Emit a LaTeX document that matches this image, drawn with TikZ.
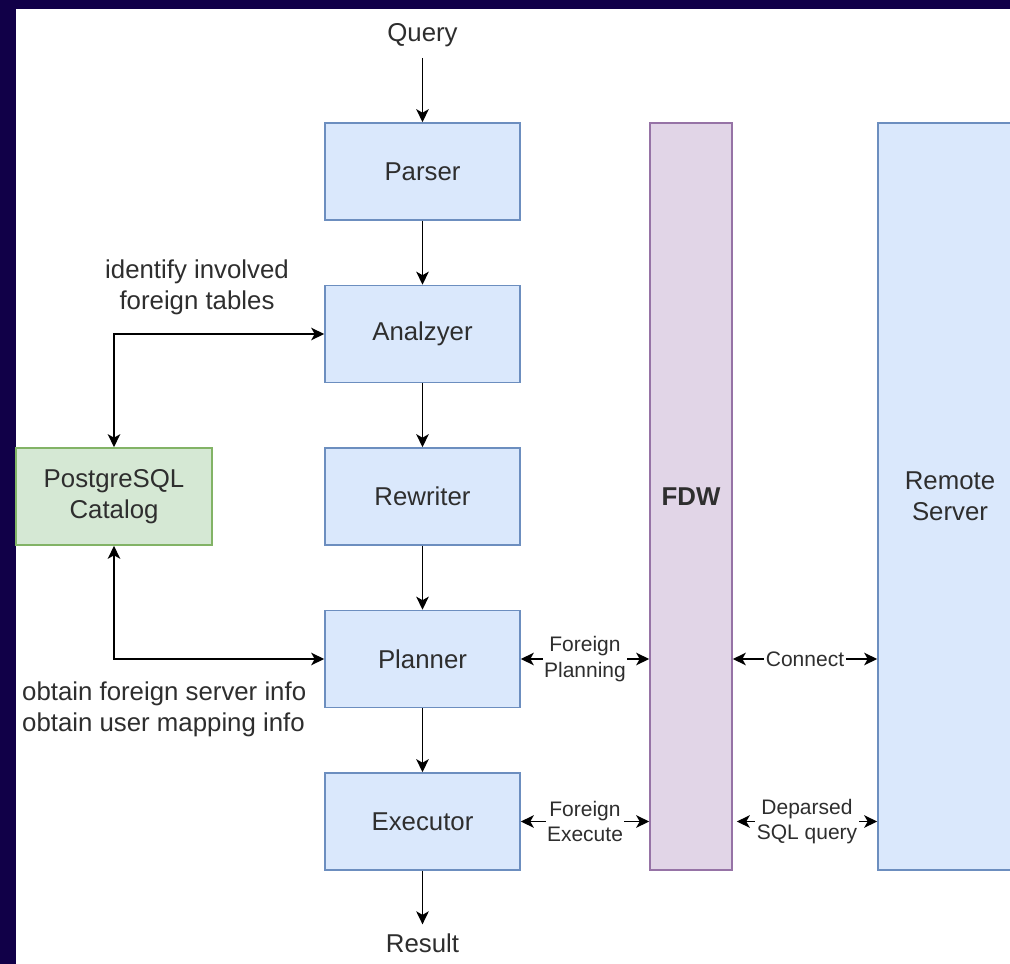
\documentclass[tikz,border=0pt]{standalone}
\usepackage{fontspec}
\setmainfont{Liberation Sans}
\usetikzlibrary{arrows.meta,calc}
\definecolor{frame}{RGB}{17,0,72}
\definecolor{bfill}{HTML}{DAE8FC}
\definecolor{bdraw}{HTML}{6C8EBF}
\definecolor{gfill}{HTML}{D5E8D4}
\definecolor{gdraw}{HTML}{82B366}
\definecolor{pfill}{HTML}{E1D5E7}
\definecolor{pdraw}{HTML}{9673A6}
\definecolor{txt}{HTML}{2E2E2E}
\tikzset{
  stage/.style={draw=bdraw, fill=bfill, line width=1.6pt, minimum width=195pt, minimum height=97pt, inner sep=0pt, align=center, text=txt, font=\fontsize{25.8}{31}\selectfont},
  catbox/.style={stage, draw=gdraw, fill=gfill, minimum width=196pt},
  tall/.style={line width=1.6pt, minimum height=747pt, inner sep=0pt, align=center, text=txt, font=\fontsize{25.8}{31}\selectfont},
  plain/.style={inner sep=2pt, align=center, text=txt, font=\fontsize{25.8}{31}\selectfont},
  small/.style={fill=white, inner sep=1.5pt, align=center, text=txt, font=\fontsize{21}{25.5}\selectfont},
  tip/.tip={Stealth[length=13pt,width=12.5pt,inset=3.5pt]},
  conn/.style={line width=1.7pt, draw=black, -tip},
  bconn/.style={line width=1.7pt, draw=black, tip-tip},
}
\begin{document}
\begin{tikzpicture}[x=1pt,y=-1pt]
\clip (0,0) rectangle (1010,964);
\useasboundingbox (0,0) rectangle (1010,964);
\fill[frame] (0,0) rectangle (1010,964);
\fill[white] (16,9) rectangle (1010,964);

\node[stage] (parser)   at (422.5,171.5) {Parser};
\node[stage] (analyzer) at (422.5,334)   {Analzyer};
\node[stage] (rewriter) at (422.5,496.5) {Rewriter};
\node[stage] (planner)  at (422.5,659)   {Planner};
\node[stage] (executor) at (422.5,821.5) {Executor};
\node[catbox] (catalog) at (114,496.5) {PostgreSQL\\Catalog};

\node[tall, draw=pdraw, fill=pfill, minimum width=82pt] (fdw) at (691,496.5) {\textbf{FDW}};
\node[tall, draw=bdraw, fill=bfill, minimum width=144pt] (remote) at (950,496.5) {Remote\\Server};

\node[plain] (query)  at (422.5,35)  {Query};
\node[plain] (result) at (422.5,943) {Result};
\node[plain] (identify) at (197,287) {identify involved\\foreign tables};
\node[plain, anchor=west, align=left] (obtain) at (20,709) {obtain foreign server info\\obtain user mapping info};

\draw[conn, shorten <=9pt] (query.south) -- (parser.north);
\draw[conn] (parser) -- (analyzer);
\draw[conn] (analyzer) -- (rewriter);
\draw[conn] (rewriter) -- (planner);
\draw[conn] (planner) -- (executor);
\draw[conn] (executor.south) -- ($(result.north)+(0,-7)$);

\draw[bconn] (catalog.north) |- (analyzer.west);
\draw[bconn] (catalog.south) |- (planner.west);

\draw[bconn] (planner.east) -- node[small] (fp) {Foreign\\Planning} (planner.east -| fdw.west);
\draw[bconn] (executor.east) -- node[small] (fe) {Foreign\\Execute} (executor.east -| fdw.west);
\draw[bconn] (planner.east -| fdw.east) -- node[small] (cn) {Connect} (planner.east -| remote.west);
\draw[bconn, shorten <=4pt] (executor.east -| fdw.east) -- node[small, xshift=2pt] (dq) {Deparsed\\SQL query} (executor.east -| remote.west);
\end{tikzpicture}
\end{document}
